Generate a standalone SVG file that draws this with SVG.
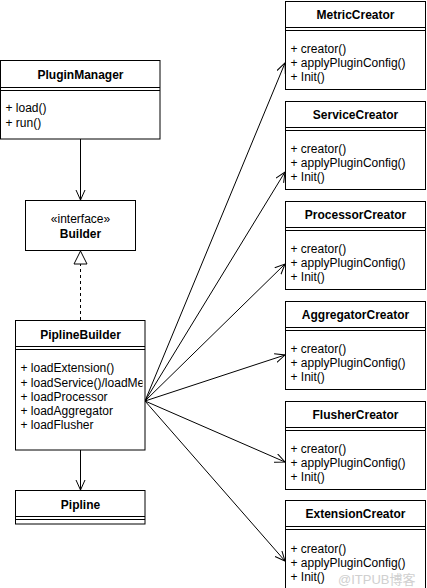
<svg xmlns="http://www.w3.org/2000/svg" width="427" height="588" viewBox="0 0 427 588">
<style>
.box{fill:#fff;stroke:#000;stroke-width:1}
.ln{stroke:#000;stroke-width:1;fill:none}
.t{font-family:"Liberation Sans",Arial,sans-serif;font-size:12px;fill:#000}
.b{font-weight:bold;text-anchor:middle}
.c{text-anchor:middle}
.wm{font-family:"Liberation Sans","Noto Sans CJK SC",sans-serif;font-size:13px;fill:#c8c8c8;opacity:0.85}
</style>
<defs>
<marker id="open" markerWidth="12" markerHeight="12" refX="10" refY="5" orient="auto" markerUnits="userSpaceOnUse">
<path d="M0,0.5 L10,5 L0,9.5" fill="none" stroke="#000" stroke-width="1"/>
</marker>
<clipPath id="pbclip"><rect x="15.5" y="350" width="127" height="100"/></clipPath>
</defs>
<rect width="427" height="588" fill="#fff"/>

<g id="connectors">
<line class="ln" x1="80.5" y1="139" x2="80.5" y2="200" marker-end="url(#open)"/>
<line class="ln" x1="80.5" y1="320" x2="80.5" y2="264" stroke-dasharray="3,3"/>
<polygon points="80.5,251 74,264 87,264" fill="#fff" stroke="#000" stroke-width="1"/>
<line class="ln" x1="80.5" y1="450" x2="80.5" y2="490" marker-end="url(#open)"/>
<line class="ln" x1="145" y1="401" x2="285" y2="63" marker-end="url(#open)"/>
<line class="ln" x1="145" y1="401" x2="285" y2="172" marker-end="url(#open)"/>
<line class="ln" x1="145" y1="401" x2="285" y2="264" marker-end="url(#open)"/>
<line class="ln" x1="145" y1="401" x2="285" y2="355" marker-end="url(#open)"/>
<line class="ln" x1="145" y1="401" x2="285" y2="462" marker-end="url(#open)"/>
<line class="ln" x1="145" y1="401" x2="285" y2="561" marker-end="url(#open)"/>
</g>

<g id="PluginManager">
<rect class="box" x="0.5" y="60.5" width="159.5" height="78.5"/>
<line class="ln" x1="0.5" y1="87.5" x2="160" y2="87.5"/>
<line class="ln" x1="0.5" y1="90.5" x2="160" y2="90.5"/>
<text class="t b" x="80.5" y="79">PluginManager</text>
<text class="t" x="5.5" y="112">+ load()</text>
<text class="t" x="5.5" y="127">+ run()</text>
</g>

<g id="Builder">
<rect class="box" x="25.5" y="200.5" width="110" height="50"/>
<text class="t c" x="80.5" y="223">«interface»</text>
<text class="t b" x="80.5" y="238">Builder</text>
</g>

<g id="PiplineBuilder">
<rect class="box" x="15.5" y="320.5" width="129.5" height="129.5"/>
<line class="ln" x1="15.5" y1="346.5" x2="145" y2="346.5"/>
<line class="ln" x1="15.5" y1="349.5" x2="145" y2="349.5"/>
<text class="t b" x="80.5" y="339">PiplineBuilder</text>
<g clip-path="url(#pbclip)">
<text class="t" x="20.5" y="372">+ loadExtension()</text>
<text class="t" x="20.5" y="387">+ loadService()/loadMetric()</text>
<text class="t" x="20.5" y="401">+ loadProcessor</text>
<text class="t" x="20.5" y="415">+ loadAggregator</text>
<text class="t" x="20.5" y="429">+ loadFlusher</text>
</g>
</g>

<g id="Pipline">
<rect class="box" x="15.5" y="490.5" width="129.5" height="33.5"/>
<line class="ln" x1="15.5" y1="516.5" x2="145" y2="516.5"/>
<line class="ln" x1="15.5" y1="519.5" x2="145" y2="519.5"/>
<text class="t b" x="80.5" y="509">Pipline</text>
</g>

<g id="MetricCreator">
<rect class="box" x="285.5" y="1.5" width="140" height="88"/>
<line class="ln" x1="285.5" y1="27.5" x2="425.5" y2="27.5"/>
<line class="ln" x1="285.5" y1="30.5" x2="425.5" y2="30.5"/>
<text class="t b" x="355.5" y="19">MetricCreator</text>
<text class="t" x="290.5" y="53">+ creator()</text>
<text class="t" x="290.5" y="67">+ applyPluginConfig()</text>
<text class="t" x="290.5" y="81">+ Init()</text>
</g>

<g id="ServiceCreator">
<rect class="box" x="285.5" y="101.5" width="140" height="88"/>
<line class="ln" x1="285.5" y1="127.5" x2="425.5" y2="127.5"/>
<line class="ln" x1="285.5" y1="130.5" x2="425.5" y2="130.5"/>
<text class="t b" x="355.5" y="119">ServiceCreator</text>
<text class="t" x="290.5" y="153">+ creator()</text>
<text class="t" x="290.5" y="167">+ applyPluginConfig()</text>
<text class="t" x="290.5" y="181">+ Init()</text>
</g>

<g id="ProcessorCreator">
<rect class="box" x="285.5" y="201.5" width="140" height="88"/>
<line class="ln" x1="285.5" y1="227.5" x2="425.5" y2="227.5"/>
<line class="ln" x1="285.5" y1="230.5" x2="425.5" y2="230.5"/>
<text class="t b" x="355.5" y="219">ProcessorCreator</text>
<text class="t" x="290.5" y="253">+ creator()</text>
<text class="t" x="290.5" y="267">+ applyPluginConfig()</text>
<text class="t" x="290.5" y="281">+ Init()</text>
</g>

<g id="AggregatorCreator">
<rect class="box" x="285.5" y="301.5" width="140" height="88"/>
<line class="ln" x1="285.5" y1="327.5" x2="425.5" y2="327.5"/>
<line class="ln" x1="285.5" y1="330.5" x2="425.5" y2="330.5"/>
<text class="t b" x="355.5" y="319">AggregatorCreator</text>
<text class="t" x="290.5" y="353">+ creator()</text>
<text class="t" x="290.5" y="367">+ applyPluginConfig()</text>
<text class="t" x="290.5" y="381">+ Init()</text>
</g>

<g id="FlusherCreator">
<rect class="box" x="285.5" y="401.5" width="140" height="88"/>
<line class="ln" x1="285.5" y1="427.5" x2="425.5" y2="427.5"/>
<line class="ln" x1="285.5" y1="430.5" x2="425.5" y2="430.5"/>
<text class="t b" x="355.5" y="419">FlusherCreator</text>
<text class="t" x="290.5" y="453">+ creator()</text>
<text class="t" x="290.5" y="467">+ applyPluginConfig()</text>
<text class="t" x="290.5" y="481">+ Init()</text>
</g>

<g id="ExtensionCreator">
<rect class="box" x="285.5" y="500.5" width="140" height="88"/>
<line class="ln" x1="285.5" y1="526.5" x2="425.5" y2="526.5"/>
<line class="ln" x1="285.5" y1="529.5" x2="425.5" y2="529.5"/>
<text class="t b" x="355.5" y="518">ExtensionCreator</text>
<text class="t" x="290.5" y="553">+ creator()</text>
<text class="t" x="290.5" y="567">+ applyPluginConfig()</text>
<text class="t" x="290.5" y="581">+ Init()</text>
</g>

<text class="wm" x="338" y="584">@ITPUB博客</text>
</svg>
